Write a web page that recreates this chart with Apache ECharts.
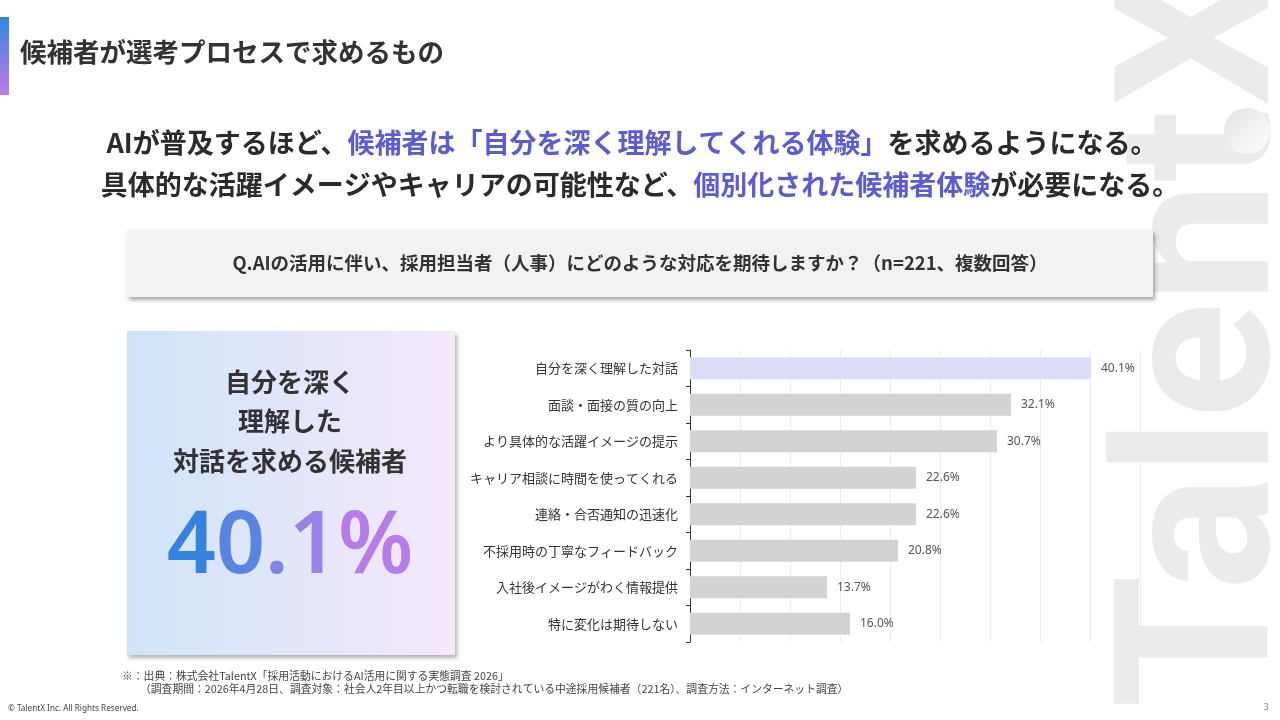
<!DOCTYPE html>
<html><head><meta charset="utf-8">
<script src="https://cdn.jsdelivr.net/npm/echarts@6/dist/echarts.min.js"></script>
<style>html,body{margin:0;padding:0;background:#fff;}#c{width:1280px;height:720px;}</style>
</head><body><div id="c"></div>
<script>
const categories = ['自分を深く理解した対話','面談・面接の質の向上','より具体的な活躍イメージの提示','キャリア相談に時間を使ってくれる','連絡・合否通知の迅速化','不採用時の丁寧なフィードバック','入社後イメージがわく情報提供','特に変化は期待しない'];
const values = [40.1, 32.1, 30.7, 22.6, 22.6, 20.8, 13.7, 16.0];
const xTicks = {min: 0, max: 45, interval: 5};
const highlightIndex = 0;

const JP = '"Noto Sans CJK JP", "Noto Sans", sans-serif';
const chart = echarts.init(document.getElementById('c'), null, {renderer: 'canvas'});
const grad = (x0,y0,x1,y1,c0,c1,g)=>new echarts.graphic.LinearGradient(x0,y0,x1,y1,[{offset:0,color:c0},{offset:1,color:c1}],g);

const bigText = values[highlightIndex].toFixed(1) + '%';
const bigColors = ['#3483e0','#5a84e2','#8484e6','#9a82e8','#b67ce9'];
const bigRich = {};
bigText.split('').forEach((ch,i)=>{ bigRich['c'+i] = {fontSize: 86, fontWeight: 600, fontFamily: '"Noto Sans", sans-serif', color: bigColors[i], fill: bigColors[i]}; });
const bigStr = bigText.split('').map((ch,i)=>'{c'+i+'|'+ch+'}').join('');

chart.setOption({
  backgroundColor: '#ffffff',
  animation: false,
  grid: {left: 690, top: 350, width: 450, height: 292, containLabel: false},
  xAxis: {
    type: 'value', min: xTicks.min, max: xTicks.max, interval: xTicks.interval,
    axisLabel: {show: false}, axisLine: {show: false}, axisTick: {show: false},
    splitLine: {show: true, lineStyle: {color: '#ececec', width: 1}}
  },
  yAxis: {
    type: 'category', data: categories, inverse: true,
    axisLine: {show: true, lineStyle: {color: '#333333', width: 1}},
    axisTick: {show: true, length: 4, lineStyle: {color: '#333333'}},
    axisLabel: {margin: 12, fontSize: 13, color: '#333333', fontFamily: JP}
  },
  series: [{
    type: 'bar', barCategoryGap: '40%',
    data: values.map((v,i)=>({value: v, itemStyle: {color: i===highlightIndex ? '#dcdcf8' : '#d3d3d3'}})),
    label: {show: true, position: 'right', distance: 10, fontSize: 12, color: '#555555', fontFamily: '"Noto Sans", sans-serif', formatter: p => p.value.toFixed(1) + '%'}
  }],
  graphic: [
    // watermark
    {type: 'text', z: -10, rotation: Math.PI/2, x: 1322, y: 708, silent: true,
      style: {text: 'Talent', fontSize: 215, fontWeight: 'bold', fontFamily: 'Roboto, sans-serif', fill: '#ebebee', align: 'left', verticalAlign: 'bottom'}},
    {type: 'circle', z: -10, shape: {cx: 1247, cy: 131, r: 23}, style: {fill: grad(0,0,1,1,'#e2e2e6','#ffffff')}},
    {type: 'text', z: -10, rotation: Math.PI/2, x: 1322, y: 106, silent: true,
      style: {text: 'X', fontSize: 215, fontWeight: 'bold', fontFamily: 'Roboto, sans-serif', fill: '#ebebee', align: 'left', verticalAlign: 'bottom'}},
    // accent bar & title
    {type: 'rect', shape: {x: 0, y: 17, width: 9, height: 78}, style: {fill: grad(0,0,0,1,'#2f86e0','#c07ae8')}},
    {type: 'text', x: 20, y: 52, style: {text: '候補者が選考プロセスで求めるもの', fontSize: 26.5, fontWeight: 'bold', fontFamily: JP, fill: '#333333', align: 'left', verticalAlign: 'middle'}},
    // headline
    {type: 'text', x: 632, y: 143, style: {
      text: '{k|AIが普及するほど、}{b|候補者は「自分を深く理解してくれる体験」}{k|を求めるようになる。}',
      align: 'center', verticalAlign: 'middle',
      rich: {k: {fontSize: 27, fontWeight: 'bold', fontFamily: JP, fill: '#2b2b2b', color: '#2b2b2b'}, b: {fontSize: 27, fontWeight: 'bold', fontFamily: JP, fill: '#5b5bd6', color: '#5b5bd6'}}}},
    {type: 'text', x: 640, y: 185, style: {
      text: '{k|具体的な活躍イメージやキャリアの可能性など、}{b|個別化された候補者体験}{k|が必要になる。}',
      align: 'center', verticalAlign: 'middle',
      rich: {k: {fontSize: 27, fontWeight: 'bold', fontFamily: JP, fill: '#2b2b2b', color: '#2b2b2b'}, b: {fontSize: 27, fontWeight: 'bold', fontFamily: JP, fill: '#5b5bd6', color: '#5b5bd6'}}}},
    // question box
    {type: 'rect', shape: {x: 127, y: 230, width: 1026, height: 67}, style: {fill: '#f2f2f2', shadowBlur: 4, shadowOffsetX: 2, shadowOffsetY: 3, shadowColor: 'rgba(0,0,0,0.35)'}},
    {type: 'text', x: 640, y: 263, style: {text: 'Q.AIの活用に伴い、採用担当者（人事）にどのような対応を期待しますか？（n=221、複数回答）', fontSize: 18.5, fontWeight: 'bold', fontFamily: JP, fill: '#333333', align: 'center', verticalAlign: 'middle'}},
    // left panel
    {type: 'rect', shape: {x: 127, y: 331, width: 328, height: 324}, style: {fill: grad(0,0,1,0,'#d0e4f8','#f5e8fb'), shadowBlur: 4, shadowOffsetX: 2, shadowOffsetY: 3, shadowColor: 'rgba(0,0,0,0.3)'}},
    {type: 'text', x: 290, y: 382, style: {text: '自分を深く', fontSize: 26, fontWeight: 'bold', fontFamily: JP, fill: '#333333', align: 'center', verticalAlign: 'middle'}},
    {type: 'text', x: 290, y: 421, style: {text: '理解した', fontSize: 26, fontWeight: 'bold', fontFamily: JP, fill: '#333333', align: 'center', verticalAlign: 'middle'}},
    {type: 'text', x: 290, y: 461, style: {text: '対話を求める候補者', fontSize: 26, fontWeight: 'bold', fontFamily: JP, fill: '#333333', align: 'center', verticalAlign: 'middle'}},
    {type: 'text', x: 290, y: 548, style: {text: bigStr, rich: bigRich, align: 'center', verticalAlign: 'middle'}},
    // footnotes
    {type: 'text', x: 122, y: 676, style: {text: '※：出典：株式会社TalentX「採用活動におけるAI活用に関する実態調査 2026」', fontSize: 10.8, fontFamily: JP, fill: '#444444', align: 'left', verticalAlign: 'middle'}},
    {type: 'text', x: 140, y: 689, style: {text: '（調査期間：2026年4月28日、調査対象：社会人2年目以上かつ転職を検討されている中途採用候補者（221名）、調査方法：インターネット調査）', fontSize: 10.8, fontFamily: JP, fill: '#444444', align: 'left', verticalAlign: 'middle'}},
    {type: 'text', x: 8, y: 709, style: {text: '© TalentX Inc. All Rights Reserved.', fontSize: 8.2, fontFamily: '"Noto Sans", sans-serif', fill: '#444444', align: 'left', verticalAlign: 'middle'}},
    {type: 'text', x: 1266, y: 707, style: {text: '3', fontSize: 9, fontFamily: '"Noto Sans", sans-serif', fill: '#888888', align: 'center', verticalAlign: 'middle'}}
  ]
});
</script></body></html>
